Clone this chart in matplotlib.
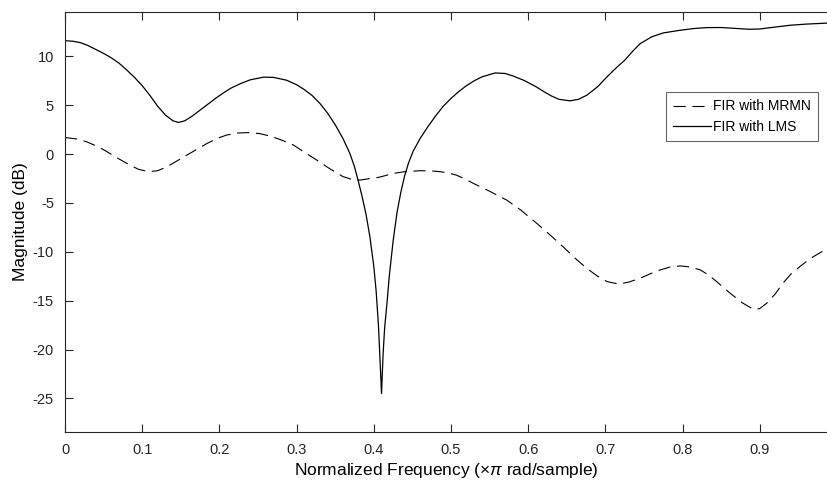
import matplotlib
matplotlib.use("Agg")
import matplotlib.pyplot as plt

plt.rcParams['font.family'] = ['Liberation Sans', 'DejaVu Sans']
plt.rcParams['mathtext.fontset'] = 'custom'
plt.rcParams['mathtext.rm'] = 'Liberation Sans'
plt.rcParams['mathtext.it'] = 'Liberation Sans:italic'
plt.rcParams['axes.unicode_minus'] = False

# LMS magnitude response
lms_freq = [0, 0.01, 0.02, 0.03, 0.04, 0.05, 0.06, 0.07, 0.08, 0.09,
            0.1, 0.11, 0.12, 0.13, 0.14, 0.147, 0.155, 0.165, 0.175, 0.185,
            0.195, 0.205, 0.215, 0.227, 0.24, 0.257, 0.27, 0.287, 0.3, 0.31,
            0.32, 0.33, 0.34, 0.35, 0.36, 0.369, 0.375, 0.38, 0.385, 0.39,
            0.395, 0.4, 0.403, 0.406, 0.408, 0.41, 0.412, 0.414, 0.417, 0.42,
            0.425, 0.43, 0.435, 0.44, 0.445, 0.451, 0.46, 0.47, 0.48, 0.49,
            0.5, 0.51, 0.52, 0.53, 0.54, 0.557, 0.57, 0.58, 0.594, 0.61,
            0.62, 0.63, 0.64, 0.654, 0.665, 0.676, 0.69, 0.702, 0.715, 0.725,
            0.735, 0.745, 0.76, 0.775, 0.797, 0.815, 0.831, 0.85, 0.87, 0.887,
            0.9, 0.915, 0.939, 0.96, 0.987]
lms_mag = [11.6, 11.55, 11.4, 11.1, 10.7, 10.3, 9.85, 9.3, 8.6, 7.85,
           7.0, 6.0, 4.9, 4.0, 3.4, 3.24, 3.4, 3.9, 4.5, 5.1,
           5.7, 6.25, 6.75, 7.2, 7.6, 7.87, 7.85, 7.56, 7.1, 6.6,
           6.0, 5.2, 4.2, 3.0, 1.6, 0.07, -1.3, -2.8, -4.4, -6.2,
           -8.5, -11.5, -14.0, -17.5, -21.0, -24.5, -20.5, -17.8, -15.3, -12.5,
           -8.9, -6.0, -3.9, -2.2, -0.9, 0.3, 1.6, 2.8, 3.9, 4.9,
           5.7, 6.4, 7.0, 7.5, 7.9, 8.3, 8.25, 8.0, 7.56, 6.9,
           6.4, 5.95, 5.6, 5.45, 5.6, 6.03, 6.9, 7.9, 8.9, 9.6,
           10.5, 11.3, 12.0, 12.4, 12.67, 12.85, 12.94, 12.95, 12.85, 12.77,
           12.8, 12.95, 13.18, 13.3, 13.4]

# MRMN magnitude response
mrmn_freq = [0, 0.015, 0.028, 0.04, 0.05, 0.058, 0.07, 0.084, 0.095, 0.108,
             0.12, 0.132, 0.145, 0.158, 0.17, 0.184, 0.197, 0.209, 0.222, 0.237,
             0.252, 0.266, 0.28, 0.296, 0.31, 0.326, 0.343, 0.36, 0.372, 0.382,
             0.395, 0.405, 0.415, 0.425, 0.44, 0.46, 0.475, 0.486, 0.497, 0.507,
             0.518, 0.529, 0.55, 0.572, 0.59, 0.611, 0.628, 0.645, 0.66, 0.676,
             0.69, 0.702, 0.717, 0.73, 0.745, 0.758, 0.771, 0.784, 0.797, 0.81,
             0.823, 0.834, 0.844, 0.861, 0.877, 0.892, 0.9, 0.909, 0.92, 0.93,
             0.94, 0.952, 0.965, 0.98, 0.987]
mrmn_mag = [1.7, 1.55, 1.26, 0.85, 0.45, 0.07, -0.5, -1.12, -1.55, -1.8,
            -1.7, -1.3, -0.7, -0.1, 0.45, 1.09, 1.6, 1.94, 2.15, 2.2,
            2.1, 1.84, 1.45, 0.92, 0.2, -0.61, -1.5, -2.3, -2.6, -2.66,
            -2.5, -2.4, -2.2, -1.98, -1.8, -1.7, -1.72, -1.8, -1.95, -2.15,
            -2.55, -3.0, -3.8, -4.7, -5.7, -7.08, -8.25, -9.47, -10.6, -11.7,
            -12.5, -13.04, -13.3, -13.1, -12.7, -12.25, -11.85, -11.55, -11.44, -11.55,
            -11.85, -12.4, -13.04, -14.2, -15.2, -15.9, -15.8, -15.25, -14.3, -13.2,
            -12.3, -11.5, -10.7, -10.0, -9.75]

fig = plt.figure(figsize=(8.27, 4.87), dpi=100)
ax = fig.add_axes([0.0786, 0.1136, 0.9214, 0.861])

ax.plot(mrmn_freq, mrmn_mag, color='black', lw=0.8, linestyle=(0, (11, 6)),
        label='FIR with MRMN')
ax.plot(lms_freq, lms_mag, color='black', lw=0.9, label='FIR with LMS')

ax.set_xlim(0, 0.987)
ax.set_ylim(-28.4, 14.5)
ax.set_xticks([0, 0.1, 0.2, 0.3, 0.4, 0.5, 0.6, 0.7, 0.8, 0.9])
ax.set_xticklabels(['0', '0.1', '0.2', '0.3', '0.4', '0.5', '0.6', '0.7', '0.8', '0.9'])
ax.set_yticks([-25, -20, -15, -10, -5, 0, 5, 10])

grey = '#262626'
for s in ax.spines.values():
    s.set_color(grey)
    s.set_linewidth(0.8)
ax.spines['right'].set_visible(False)
ax.tick_params(direction='in', length=6, width=0.8, color=grey, labelcolor=grey,
               labelsize=10.5, top=True, right=False, pad=8)

ax.set_xlabel(r'Normalized Frequency ($\times\pi$ rad/sample)', fontsize=12.5, color='black', labelpad=3)
ax.set_ylabel('Magnitude (dB)', fontsize=12.5, color='black', labelpad=3)

leg = ax.legend(loc='upper right', bbox_to_anchor=(0.988, 0.809), borderaxespad=0,
                fontsize=10, frameon=True, fancybox=False, handlelength=2.74,
                handletextpad=0.15, borderpad=0.5, labelspacing=0.45)
leg.get_frame().set_edgecolor('#404040')
leg.get_frame().set_linewidth(0.8)

fig.savefig('out.png', dpi=100)
